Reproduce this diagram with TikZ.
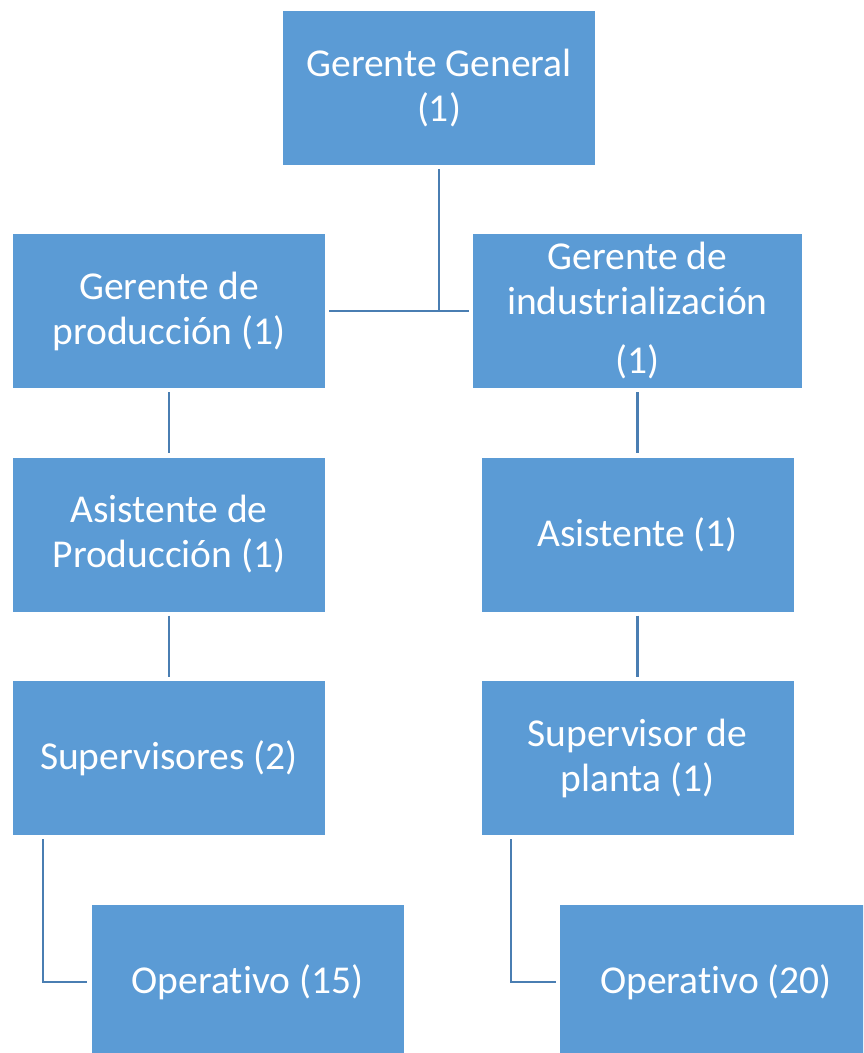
\documentclass[tikz,border=0pt]{standalone}
\usepackage{fontspec}
\setmainfont[Ligatures={NoCommon}]{Carlito}
\definecolor{boxblue}{HTML}{5B9BD5}
\definecolor{lineblue}{HTML}{4A7EB2}
\begin{document}
\begin{tikzpicture}[x=1pt,y=-1pt,
  box/.style={rectangle, fill=boxblue, draw=none, text=white, inner sep=0pt,
    minimum width=312pt, minimum height=154pt, align=center,
    font=\fontsize{39.5}{45}\selectfont},
  conn/.style={draw=lineblue, line width=2.2pt}]
\useasboundingbox (0,0) rectangle (863,1053);
\clip (0,0) rectangle (863,1053);
\node[box] (gg) at (439,88) {Gerente General\\(1)};
\node[box] (gp) at (169,311) {Gerente de\\producción (1)};
\node[box, minimum width=329pt] (gi) at (637.5,311) {Gerente de\\industrialización\\[14pt](1)};
\node[box] (ap) at (169,534.5) {Asistente de\\Producción (1)};
\node[box] (ai) at (637.5,534.5) {Asistente (1)};
\node[box] (sp) at (169,758) {Supervisores (2)};
\node[box] (si) at (637.5,758) {Supervisor de\\planta (1)};
\node[box] (o1) at (247.5,982) {Operativo (15)};
\node[box] (o2) at (716,982) {Operativo (20)};
% connectors
\draw[conn] ([xshift=4pt]gp.east) -- ([xshift=-4pt]gi.west);
\draw[conn] ([yshift=-4pt]gg.south) -- (gg.south |- gp.east);
\draw[conn, shorten <=4pt, shorten >=4pt] (gp.south) -- (ap.north);
\draw[conn, shorten <=4pt, shorten >=4pt] (ap.south) -- (sp.north);
\draw[conn, shorten <=4pt, shorten >=4pt] (gi.south) -- (ai.north);
\draw[conn, shorten <=4pt, shorten >=4pt] (ai.south) -- (si.north);
\coordinate (sa) at ([xshift=30pt,yshift=-4pt]sp.south west);
\coordinate (sb) at ([xshift=30pt,yshift=-4pt]si.south west);
\draw[conn, shorten >=4pt] (sa) |- (o1.west);
\draw[conn, shorten >=4pt] (sb) |- (o2.west);
\end{tikzpicture}
\end{document}
